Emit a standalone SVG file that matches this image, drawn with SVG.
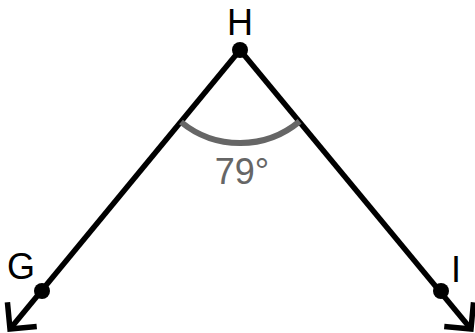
<svg xmlns="http://www.w3.org/2000/svg" width="475" height="333" viewBox="0 0 475 333">
<style>
.ray{stroke:#000;stroke-width:5.5;fill:none}
.dot{fill:#000}
.lbl{font-family:"Liberation Sans",Arial,sans-serif;font-size:36px;fill:#000;text-anchor:middle}
.ang{stroke:#666;stroke-width:6;fill:none}
.angtxt{font-family:"Liberation Sans",Arial,sans-serif;font-size:36px;fill:#666;text-anchor:middle}
</style>
<defs>
<marker id="arr" markerUnits="userSpaceOnUse" markerWidth="50" markerHeight="50" viewBox="-25 -25 50 50" refX="0" refY="0" orient="auto" overflow="visible">
<path d="M -19 -19 L 0 0 L -19 19" stroke="#000" stroke-width="5.5" fill="none" stroke-linejoin="miter"/>
</marker>
</defs>
<g id="connectors">
<line class="ray" x1="240" y1="50" x2="10" y2="329" marker-end="url(#arr)"/>
<line class="ray" x1="240" y1="50" x2="471" y2="329" marker-end="url(#arr)"/>
</g>
<g id="angle">
<path class="ang" d="M 181 122 A 93 93 0 0 0 299.6 121.4"/>
<text class="angtxt" x="242" y="184">79°</text>
</g>
<g id="H">
<circle class="dot" cx="240" cy="50" r="8"/>
<text class="lbl" x="240" y="35">H</text>
</g>
<g id="G">
<circle class="dot" cx="42" cy="291" r="8"/>
<text class="lbl" x="21" y="279">G</text>
</g>
<g id="I">
<circle class="dot" cx="441" cy="291" r="8"/>
<text class="lbl" x="456" y="282">I</text>
</g>
</svg>
